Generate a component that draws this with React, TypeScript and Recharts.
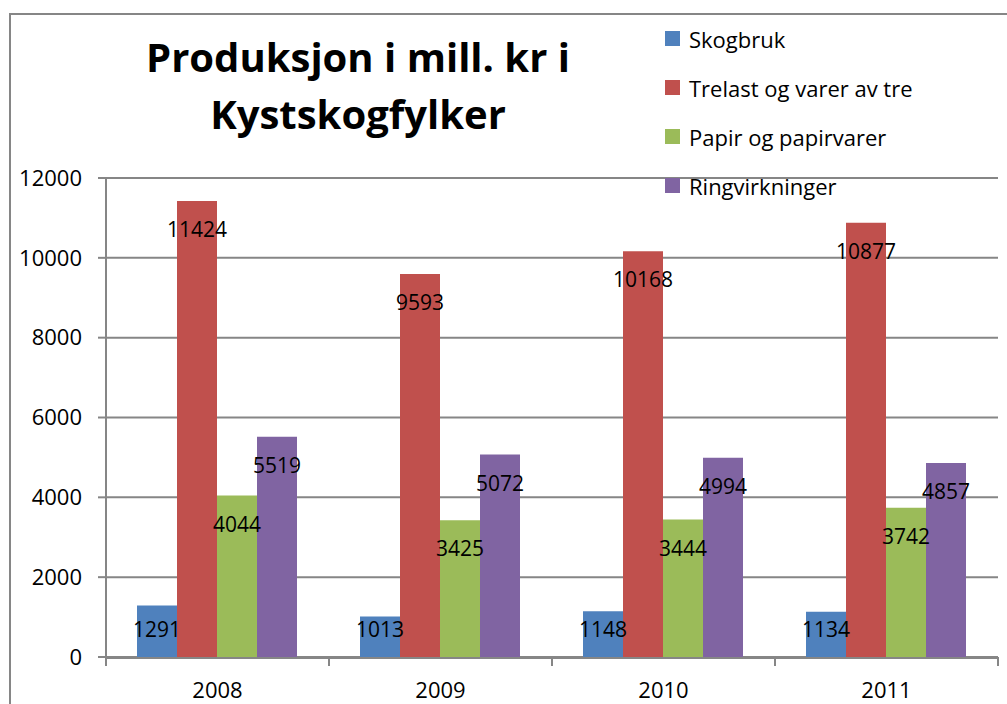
import React from 'react';
import { BarChart, Bar, XAxis, YAxis, CartesianGrid, LabelList } from 'recharts';

const years = ['2008', '2009', '2010', '2011'];
const skogbruk = [1291, 1013, 1148, 1134];
const trelast = [11424, 9593, 10168, 10877];
const papir = [4044, 3425, 3444, 3742];
const ringvirkninger = [5519, 5072, 4994, 4857];
const yTicks = [0, 2000, 4000, 6000, 8000, 10000, 12000];
const edgeTicks = [0, 1, 2, 3, 4];

const series = [
  { key: 'skogbruk', name: 'Skogbruk', color: '#4F81BD' },
  { key: 'trelast', name: 'Trelast og varer av tre', color: '#C0504D' },
  { key: 'papir', name: 'Papir og papirvarer', color: '#9BBB59' },
  { key: 'ring', name: 'Ringvirkninger', color: '#8064A2' },
];

const data = years.map((year, i) => ({
  year,
  idx: i + 0.5,
  skogbruk: skogbruk[i],
  trelast: trelast[i],
  papir: papir[i],
  ring: ringvirkninger[i],
}));

const FONT = '"Open Sans", sans-serif';
const GRID = '#868686';
const PLOT_BOTTOM = 657;

// Excel-style label: just under the top of the bar, but never below the axis
const BarLabel = (props: any) => {
  const { x, y, width, value } = props;
  const cy = Math.min(y + 28, PLOT_BOTTOM - 28);
  return (
    <text x={x + width / 2} y={cy} textAnchor="middle" dominantBaseline="central"
      fontFamily={FONT} fontSize={21} fill="#000">
      {value}
    </text>
  );
};

// tick marks between categories, no text
const NoText = () => <g />;

export default function App() {
  return (
    <div style={{ position: 'absolute', left: 0, top: 0, width: 1007, height: 704, background: '#fff', overflow: 'hidden' }}>
      <div style={{ position: 'absolute', left: 9, top: 13, width: 1000, height: 700, borderTop: `2px solid ${GRID}`, borderLeft: `2px solid ${GRID}` }} />
      <div style={{ position: 'absolute', left: 100, top: 28, width: 516, textAlign: 'center', fontFamily: FONT, fontWeight: 700, fontSize: 40, lineHeight: '57px', color: '#000' }}>
        Produksjon i mill. kr i<br />Kystskogfylker
      </div>
      <BarChart width={1007} height={704} data={data}
        margin={{ top: 178, right: 9, bottom: 7, left: 10 }}
        barCategoryGap={31} barGap={0}>
        <CartesianGrid xAxisId="cat" vertical={false} stroke={GRID} strokeWidth={2} />
        <XAxis type="number" dataKey="idx" domain={[0, 4]} ticks={edgeTicks} interval={0}
          height={1} tick={<NoText />} axisLine={false} tickLine={{ stroke: GRID, strokeWidth: 2 }} tickSize={9} />
        <XAxis xAxisId="cat" dataKey="year" height={39} tickLine={false} axisLine={{ stroke: GRID, strokeWidth: 2 }}
          tickSize={0} tickMargin={24} tick={{ fontFamily: FONT, fontSize: 22, fill: '#000' }} />
        <YAxis domain={[0, 12000]} ticks={yTicks} width={96} interval={0}
          axisLine={{ stroke: GRID, strokeWidth: 2 }} tickLine={{ stroke: GRID, strokeWidth: 2 }}
          tickSize={8} tickMargin={16} tick={{ fontFamily: FONT, fontSize: 22, fill: '#000' }} />
        {series.map((s) => (
          <Bar key={s.key} xAxisId="cat" dataKey={s.key} name={s.name} fill={s.color} isAnimationActive={false}>
            <LabelList dataKey={s.key} content={<BarLabel />} />
          </Bar>
        ))}
      </BarChart>
      <div style={{ position: 'absolute', left: 665, top: 14, fontFamily: FONT, fontSize: 22, color: '#000' }}>
        {series.map((s) => (
          <div key={s.key} style={{ display: 'flex', alignItems: 'center', height: 49 }}>
            <span style={{ width: 15, height: 15, background: s.color, marginRight: 9, display: 'inline-block' }} />
            <span>{s.name}</span>
          </div>
        ))}
      </div>
    </div>
  );
}
